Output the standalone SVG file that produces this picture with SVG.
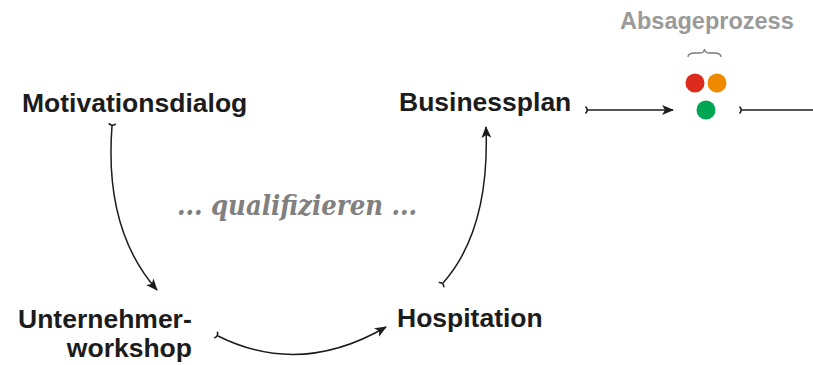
<svg xmlns="http://www.w3.org/2000/svg" width="813" height="365" viewBox="0 0 813 365">
  <style>
    .node { font-family: "Liberation Sans", Arial, sans-serif; font-weight: bold; font-size: 26.5px; fill: #1c1c1c; }
    .grey { font-family: "Liberation Sans", Arial, sans-serif; font-weight: bold; font-size: 23.5px; fill: #9a9a9a; }
    .motto { font-family: "DejaVu Serif", Georgia, serif; font-weight: bold; font-style: italic; font-size: 27px; fill: #808080; }
    .conn { fill: none; stroke: #1c1c1c; stroke-width: 1.5; }
  </style>
  <defs>
    <marker id="head" viewBox="0 0 12 10" refX="11" refY="5" markerWidth="12" markerHeight="10" markerUnits="userSpaceOnUse" orient="auto">
      <path d="M0,0 L12,5 L0,10 L3,5 z" fill="#1c1c1c"/>
    </marker>
    <marker id="tail" viewBox="-5 -5 10 10" refX="0" refY="0" markerWidth="10" markerHeight="10" markerUnits="userSpaceOnUse" orient="auto">
      <path d="M-2.5,-3.5 Q1,0 -2.5,3.5" fill="none" stroke="#1c1c1c" stroke-width="1.6"/>
    </marker>
  </defs>
  <rect width="813" height="365" fill="#ffffff"/>

  <g id="motivationsdialog"><text class="node" x="22" y="112">Motivationsdialog</text></g>
  <g id="businessplan"><text class="node" x="399" y="111">Businessplan</text></g>
  <g id="unternehmerworkshop">
    <text class="node" x="18" y="328">Unternehmer-</text>
    <text class="node" x="192" y="357" text-anchor="end">workshop</text>
  </g>
  <g id="hospitation"><text class="node" x="397" y="327">Hospitation</text></g>
  <g id="qualifizieren"><text class="motto" x="177" y="215" textLength="240" lengthAdjust="spacingAndGlyphs">... qualifizieren ...</text></g>
  <g id="absageprozess">
    <text class="grey" x="620" y="29">Absageprozess</text>
    <path d="M688,57 Q688,53 695,53 L700,53 Q704,53 704.5,49 Q705,53 709,53 L714,53 Q721,53 721,57" fill="none" stroke="#7a7a7a" stroke-width="1.3"/>
    <circle cx="695" cy="83" r="9.5" fill="#dc2b1c"/>
    <circle cx="717" cy="83" r="9.5" fill="#ef8a00"/>
    <circle cx="706" cy="110" r="9.5" fill="#00a651"/>
  </g>

  <g id="connectors">
    <path class="conn" d="M112,126 Q104,230 157,290" marker-start="url(#tail)" marker-end="url(#head)"/>
    <path class="conn" d="M218,336 Q300,377 386,327" marker-start="url(#tail)" marker-end="url(#head)"/>
    <path class="conn" d="M443,283 Q490,230 486,127" marker-start="url(#tail)" marker-end="url(#head)"/>
    <path class="conn" d="M588,110 L673,110" marker-start="url(#tail)" marker-end="url(#head)"/>
    <path class="conn" d="M742,110 L813,110" marker-start="url(#tail)"/>
  </g>
</svg>
